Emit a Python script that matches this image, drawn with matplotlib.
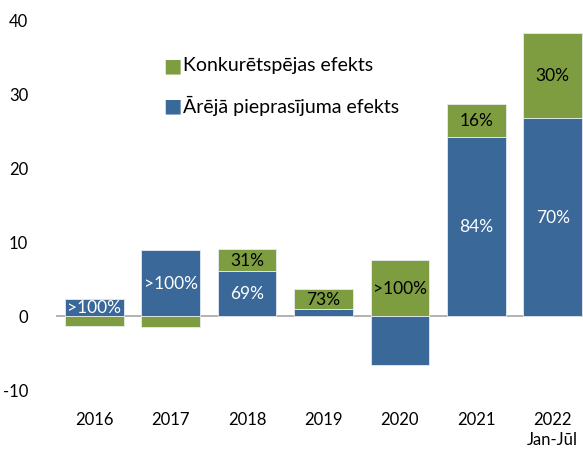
import matplotlib.pyplot as plt
import numpy as np

plt.rcParams['font.family'] = ['Lato', 'DejaVu Sans']
plt.rcParams['axes.unicode_minus'] = False

years = ['2016', '2017', '2018', '2019', '2020', '2021', '2022\nJan-Jūl']
areja = [2.3, 8.9, 6.1, 1.0, -6.6, 24.2, 26.8]      # Ārējā pieprasījuma efekts
konk = [-1.4, -1.5, 3.0, 2.6, 7.6, 4.5, 11.5]       # Konkurētspējas efekts
areja_lbl = ['>100%', '>100%', '69%', '', '', '84%', '70%']
konk_lbl = ['', '', '31%', '73%', '>100%', '16%', '30%']

blue = '#3a6899'
green = '#7e9c40'

fig = plt.figure(figsize=(5.83, 4.52), dpi=100)
ax = fig.add_axes([56 / 583, 61 / 452, 535 / 583, 370 / 452])

x = np.arange(len(years))
areja = np.array(areja)
konk = np.array(konk)
# zaļais stabiņš sākas no zila gala, ja abi vienā virzienā, citādi no nulles
konk_bottom = np.where(np.sign(konk) == np.sign(areja), areja, 0)

w = 0.77
ax.bar(x, areja, w, color=blue, edgecolor='#e6ecf2', linewidth=0.6, zorder=2)
ax.bar(x, konk, w, bottom=konk_bottom, color=green, edgecolor='#e6ecf2', linewidth=0.6, zorder=2)
ax.axhline(0, color='#a6a6a6', linewidth=1.2, zorder=1)

for i in range(len(years)):
    if areja_lbl[i]:
        ax.text(x[i], areja[i] / 2, areja_lbl[i], ha='center', va='center',
                color='white', fontsize=12.5, zorder=3)
    if konk_lbl[i]:
        ax.text(x[i], konk_bottom[i] + konk[i] / 2, konk_lbl[i], ha='center', va='center',
                color='black', fontsize=12.5, zorder=3)

ax.set_xlim(-0.5, len(years) - 0.5)
ax.set_ylim(-10, 40)
ax.set_yticks([-10, 0, 10, 20, 30, 40])
ax.set_xticks(x)
ax.set_xticklabels(years, fontsize=12, linespacing=1.35)
ax.tick_params(axis='x', length=0, pad=15)
ax.tick_params(axis='y', length=0, pad=20, labelsize=12)
for sp in ax.spines.values():
    sp.set_visible(False)

# leģenda
fig.text(163 / 583, 1 - 66 / 452, '■', color=green, fontsize=14, va='center', family=['DejaVu Sans'])
fig.text(183 / 583, 1 - 66 / 452, 'Konkurētspējas efekts', fontsize=14, va='center')
fig.text(163 / 583, 1 - 106 / 452, '■', color=blue, fontsize=14, va='center', family=['DejaVu Sans'])
fig.text(183 / 583, 1 - 106 / 452, 'Ārējā pieprasījuma efekts', fontsize=14, va='center')

fig.savefig('out.png', dpi=100)
